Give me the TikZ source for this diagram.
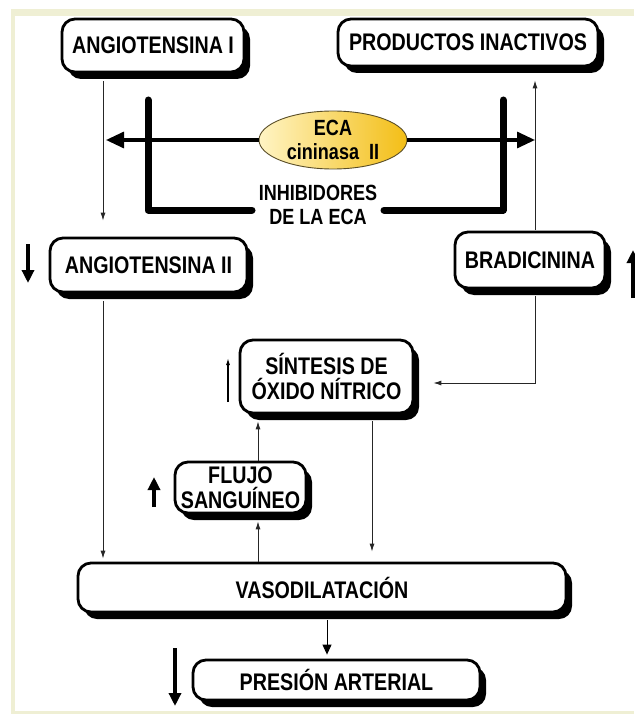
\documentclass[tikz,border=0pt]{standalone}
\usepackage{fontspec}
\setmainfont{Liberation Sans}[FakeStretch=0.82]
\usetikzlibrary{shapes.geometric,shadows,arrows.meta,calc}
\definecolor{cream}{RGB}{239,239,212}
\definecolor{ecaL}{RGB}{255,244,196}
\definecolor{ecaR}{RGB}{243,190,22}
\definecolor{ecaD}{RGB}{90,78,40}
\begin{document}
\begin{tikzpicture}[x=1pt,y=-1pt,
  box/.style={draw=black, line width=2.8pt, fill=white, rounded corners=13pt,
    align=center, inner sep=0pt, font=\bfseries\fontsize{24}{25}\selectfont,
    drop shadow={shadow xshift=6pt, shadow yshift=-7pt, fill=black, opacity=1}},
  tarr/.style={line width=0.9pt, draw=black!85, -{Latex[length=8pt,width=5pt]}},
  marr/.style={line width=1pt, -{Triangle[length=10pt,width=9pt]}},
  barr/.style={line width=3.4pt, -{Triangle[length=13pt,width=12pt]}},
  sarr/.style={line width=1.2pt, -{Latex[length=7pt,width=4pt]}},
  ecaarr/.style={line width=3.2pt, -{Triangle[length=18pt,width=16pt]}},
  brk/.style={line width=7pt, line cap=round, line join=round},
  lbl/.style={font=\bfseries\fontsize{22}{24}\selectfont, align=center, inner sep=0pt}]
\useasboundingbox (0,0) rectangle (634,714);
\fill[cream] (11,9) rectangle (634,714);
\fill[white] (15,16) rectangle (634,711);

% main boxes
\node[box, minimum width=182pt, minimum height=53pt] (a1) at (153,45.5) {ANGIOTENSINA I};
\node[box, minimum width=260pt, minimum height=47pt] (pi) at (468,42.5) {PRODUCTOS INACTIVOS};
\node[box, minimum width=197pt, minimum height=54pt] (a2) at (148.5,265) {ANGIOTENSINA II};
\node[box, minimum width=150pt, minimum height=56pt] (br) at (530,260) {BRADICININA};
\node[box, minimum width=173pt, minimum height=73pt] (sn) at (326.5,376.5) {SÍNTESIS DE\\ÓXIDO NÍTRICO};
\node[box, minimum width=131pt, minimum height=51pt] (fl) at (240.5,487.5) {FLUJO\\SANGUÍNEO};
\node[box, minimum width=488pt, minimum height=49pt] (va) at (322,587.5) {VASODILATACIÓN};
\node[box, minimum width=287pt, minimum height=40pt] (pr) at (336.5,680) {PRESIÓN ARTERIAL};

% ECA double arrow and ellipse
\coordinate (eL) at (106,140);
\coordinate (eR) at (535,140);
\node[ellipse, draw=ecaD, line width=0.9pt, left color=ecaL, right color=ecaR,
  minimum width=148pt, minimum height=58pt, inner sep=0pt, align=center,
  font=\bfseries\fontsize{22}{24}\selectfont] (eca) at (333,140) {ECA\\cininasa\ \ II};
\draw[ecaarr] (eca.west) -- (eL);
\draw[ecaarr] (eca.east) -- (eR);

% inhibitor bracket
\coordinate (bl1) at (148,100);
\coordinate (bl2) at (148,210);
\coordinate (bl3) at (252,210);
\coordinate (bk3) at (384,210);
\coordinate (bk2) at (503,210);
\coordinate (bk1) at (503,100);
\draw[brk] (bl1) -- (bl2) -- (bl3);
\draw[brk] (bk3) -- (bk2) -- (bk1);
\node[lbl] (inh) at (318,205) {INHIBIDORES\\DE LA ECA};

% connectors
\coordinate (x103) at (103,0);
\coordinate (x535) at (535,0);
\coordinate (x372) at (372,0);
\coordinate (x258) at (258,0);
\coordinate (x327) at (327,0);
\coordinate (k) at (535,383);
\draw[tarr, shorten <=8pt, shorten >=16pt] (a1.south -| x103) -- (a2.north -| x103);
\draw[tarr, shorten <=1pt, shorten >=13pt] (br.north -| x535) -- (pi.south -| x535);
\draw[tarr, shorten <=7pt] (br.south -| k) -- (k) -- ([xshift=19pt]sn.east |- k);
\draw[tarr, shorten <=8pt, shorten >=3pt] (a2.south -| x103) -- (va.north -| x103);
\draw[tarr, shorten <=7pt, shorten >=10pt] (sn.south -| x372) -- (va.north -| x372);
\draw[tarr, shorten >=7pt] (va.north -| x258) -- (fl.south -| x258);
\draw[tarr, shorten >=7pt] (fl.north -| x258) -- (sn.south -| x258);
\draw[marr, shorten <=7pt, shorten >=4pt] (va.south -| x327) -- (pr.north -| x327);

% change indicators
\coordinate (d1a) at (28,244);  \coordinate (d1b) at (28,283);
\coordinate (u1a) at (633,298); \coordinate (u1b) at (633,250);
\coordinate (u2a) at (228,402); \coordinate (u2b) at (228,358);
\coordinate (u3a) at (154,507); \coordinate (u3b) at (154,477);
\coordinate (d2a) at (175,648); \coordinate (d2b) at (175,706);
\draw[barr] (d1a) -- (d1b);
\draw[barr] (u1a) -- (u1b);
\draw[sarr] (u2a) -- (u2b);
\draw[barr] (u3a) -- (u3b);
\draw[barr] (d2a) -- (d2b);
\end{tikzpicture}
\end{document}
